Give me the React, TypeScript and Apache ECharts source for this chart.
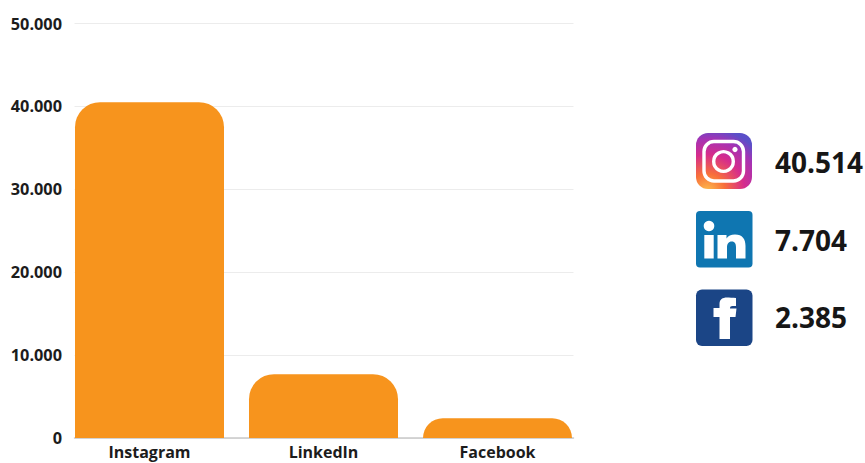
import React, { useEffect, useRef } from "react";
import * as echarts from "echarts";

const platforms = ["Instagram", "LinkedIn", "Facebook"];
const followers = [40514, 7704, 2385];
const axisMax = 50000;
const axisStep = 10000;

const FONT = '"Open Sans", sans-serif';
const INK = "#1c1c1c";
const BAR = "#f7941d";

const dotted = (v: number) => String(v).replace(/\B(?=(\d{3})+$)/g, ".");

echarts.graphic.registerShape(
  "linkedinN",
  echarts.graphic.extendPath(
    "M717.5 235H726.5V238.5C728 236 731 234.5 735 234.5C742.5 234.5 745.5 239 745.5 246V258.5H736V247.5C736 244 735 241.5 731.8 241.5C728.5 241.5 727 244 727 247.5V258.5H717.5Z",
    {}
  )
);
echarts.graphic.registerShape(
  "facebookF",
  echarts.graphic.extendPath(
    "M719.5 339V317H713.5V308H719.5V304C719.5 299.5 722.5 297.5 727 297.5C729 297.5 733 297.7 736 298V306H732.5C730.8 306 730 306.7 730 308.5V308.5H736.5L735.5 317H730V339Z",
    {}
  )
);

const instagramFill = {
  type: "radial",
  x: 0.2,
  y: 1.05,
  r: 1.15,
  colorStops: [
    { offset: 0, color: "#fdc04e" },
    { offset: 0.28, color: "#f8703a" },
    { offset: 0.58, color: "#d62c8c" },
    { offset: 0.82, color: "#a532b4" },
    { offset: 1, color: "#5a4fc8" },
  ],
};

const white = { fill: "#ffffff" };
const outline = { fill: "none", stroke: "#ffffff", lineWidth: 3.4 };

const icons = [
  { type: "rect", shape: { x: 696, y: 133, width: 56, height: 56, r: 12 }, style: { fill: instagramFill } },
  { type: "rect", shape: { x: 704, y: 141.5, width: 39.5, height: 39.5, r: 10 }, style: outline },
  { type: "circle", shape: { cx: 723.5, cy: 161.5, r: 9.8 }, style: outline },
  { type: "circle", shape: { cx: 735, cy: 149.5, r: 2.6 }, style: white },
  { type: "rect", shape: { x: 696, y: 211, width: 56.5, height: 56.5, r: 4 }, style: { fill: "#0f76b1" } },
  { type: "circle", shape: { cx: 709, cy: 226, r: 5.3 }, style: white },
  { type: "rect", shape: { x: 704.3, y: 235, width: 9.4, height: 23.5 }, style: white },
  { type: "linkedinN", style: white },
  { type: "rect", shape: { x: 696, y: 289.5, width: 56.5, height: 56.5, r: 6 }, style: { fill: "#1b4586" } },
  { type: "facebookF", style: white },
];

const valueRows = [162, 239.5, 317];

export default function App() {
  const ref = useRef<HTMLDivElement>(null);

  useEffect(() => {
    const chart = echarts.init(ref.current!, null, { renderer: "svg" });
    chart.setOption({
      animation: false,
      backgroundColor: "#ffffff",
      // Wide grid carries the bars and their labels, the narrower one the rules.
      grid: [
        { left: 62.5, top: 23.5, width: 522, height: 414.5 },
        { left: 74.5, top: 23.5, width: 499, height: 414.5 },
      ],
      xAxis: [
        {
          type: "category",
          gridIndex: 0,
          data: platforms,
          axisLine: { show: false },
          axisTick: { show: false },
          axisLabel: {
            margin: 6,
            lineHeight: 16,
            fontFamily: FONT,
            fontWeight: "bold",
            fontSize: 16,
            color: INK,
          },
        },
        {
          type: "category",
          gridIndex: 1,
          data: platforms,
          axisLine: { lineStyle: { color: "#c9c9c9", width: 1.5 } },
          axisTick: { show: false },
          axisLabel: { show: false },
        },
      ],
      yAxis: [
        { type: "value", gridIndex: 0, min: 0, max: axisMax, interval: axisStep, show: false },
        {
          type: "value",
          gridIndex: 1,
          min: 0,
          max: axisMax,
          interval: axisStep,
          axisLine: { show: false },
          axisTick: { show: false },
          splitLine: { lineStyle: { color: "#ececec", width: 1 } },
          axisLabel: {
            margin: 12.5,
            fontFamily: FONT,
            fontWeight: "bold",
            fontSize: 16.3,
            color: INK,
            formatter: (v: number) => dotted(v),
          },
        },
      ],
      series: [
        {
          type: "bar",
          xAxisIndex: 0,
          yAxisIndex: 0,
          data: followers,
          barWidth: 149,
          itemStyle: { color: BAR, borderRadius: [25, 25, 0, 0] },
        },
      ],
      graphic: [
        ...icons.map((icon) => ({ ...icon, silent: true })),
        ...followers.map((v, i) => ({
          type: "text",
          x: 775,
          y: valueRows[i],
          silent: true,
          style: {
            text: dotted(v),
            fontFamily: FONT,
            fontWeight: "bold",
            fontSize: 28,
            fill: "#161616",
            verticalAlign: "middle",
            textAlign: "left",
          },
        })),
      ],
    });
    return () => chart.dispose();
  }, []);

  return <div ref={ref} style={{ position: "fixed", left: 0, top: 0, width: 865, height: 463 }} />;
}
